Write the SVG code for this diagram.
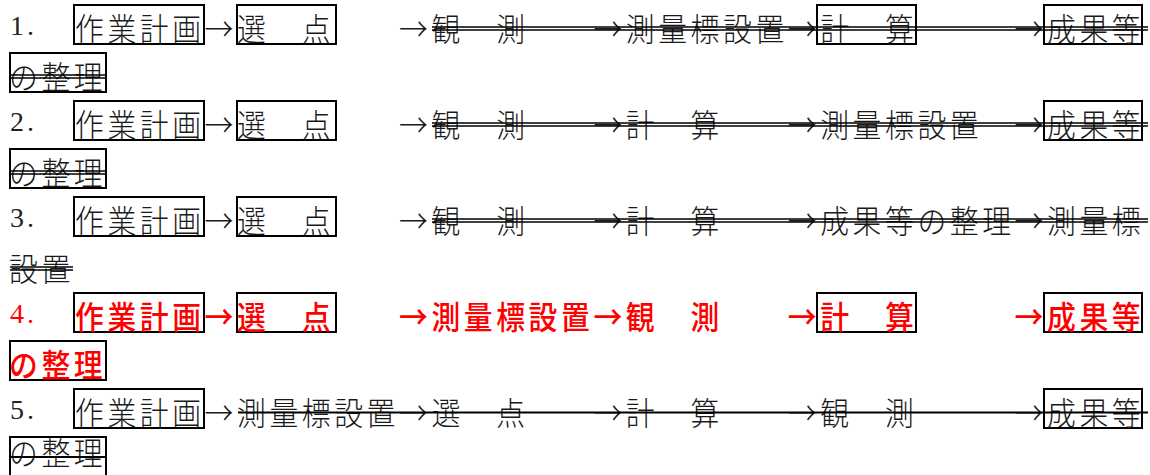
<svg xmlns="http://www.w3.org/2000/svg" width="1150" height="475" viewBox="0 0 1150 475">
<style>
.t{font-family:"Noto Sans CJK JP","Noto Sans CJK SC",sans-serif;font-size:32px;font-weight:300;fill:#1a1a1a}
.n{font-family:"Liberation Serif",serif;font-size:28px;fill:#222}
.r .t,.r .n{fill:#ff0000;font-weight:500}
.box{fill:none;stroke:#000;stroke-width:2}
.s{stroke:#000;stroke-width:1.5;fill:none}
.s1{stroke:#000;stroke-width:2.2;fill:none}
</style>
<rect width="1150" height="475" fill="#fff"/>

<!-- Line 1 -->
<g id="line1">
<text class="n" x="10" y="35">1</text><text class="n" x="27" y="35">.</text>
<g id="l1-plan"><rect class="box" x="74" y="5" width="130" height="39"/><text class="t" transform="scale(0.9 1)" x="83.33 119.33 155.33 191.33" y="41">作業計画</text></g>
<g id="l1-select"><rect class="box" x="237" y="5" width="99" height="39"/><text class="t" transform="scale(0.9 1)" x="263.33 335.33" y="41">選点</text></g>
<g id="l1-observe"><text class="t" transform="scale(0.9 1)" x="479.33 551.33" y="41">観測</text></g>
<g id="l1-marker"><text class="t" transform="scale(0.9 1)" x="695.33 731.33 767.33 803.33 839.33" y="41">測量標設置</text></g>
<g id="l1-calc"><rect class="box" x="817" y="5" width="99" height="39"/><text class="t" transform="scale(0.9 1)" x="911.33 983.33" y="41">計算</text></g>
<g id="l1-result"><rect class="box" x="1044" y="5" width="98" height="39"/><text class="t" transform="scale(0.9 1)" x="1163.33 1199.33 1235.33" y="41">成果等</text><rect class="box" x="10" y="53" width="96" height="39"/><text class="t" transform="scale(0.9 1)" x="10 46 82" y="89">の整理</text></g>
</g>

<!-- Line 2 -->
<g id="line2">
<text class="n" x="10" y="131">2</text><text class="n" x="27" y="131">.</text>
<g id="l2-plan"><rect class="box" x="74" y="101" width="130" height="39"/><text class="t" transform="scale(0.9 1)" x="83.33 119.33 155.33 191.33" y="137">作業計画</text></g>
<g id="l2-select"><rect class="box" x="237" y="101" width="99" height="39"/><text class="t" transform="scale(0.9 1)" x="263.33 335.33" y="137">選点</text></g>
<g id="l2-observe"><text class="t" transform="scale(0.9 1)" x="479.33 551.33" y="137">観測</text></g>
<g id="l2-calc"><text class="t" transform="scale(0.9 1)" x="695.33 767.33" y="137">計算</text></g>
<g id="l2-marker"><text class="t" transform="scale(0.9 1)" x="911.33 947.33 983.33 1019.33 1055.33" y="137">測量標設置</text></g>
<g id="l2-result"><rect class="box" x="1044" y="101" width="98" height="39"/><text class="t" transform="scale(0.9 1)" x="1163.33 1199.33 1235.33" y="137">成果等</text><rect class="box" x="10" y="149" width="96" height="39"/><text class="t" transform="scale(0.9 1)" x="10 46 82" y="185">の整理</text></g>
</g>

<!-- Line 3 -->
<g id="line3">
<text class="n" x="10" y="227">3</text><text class="n" x="27" y="227">.</text>
<g id="l3-plan"><rect class="box" x="74" y="197" width="130" height="39"/><text class="t" transform="scale(0.9 1)" x="83.33 119.33 155.33 191.33" y="233">作業計画</text></g>
<g id="l3-select"><rect class="box" x="237" y="197" width="99" height="39"/><text class="t" transform="scale(0.9 1)" x="263.33 335.33" y="233">選点</text></g>
<g id="l3-observe"><text class="t" transform="scale(0.9 1)" x="479.33 551.33" y="233">観測</text></g>
<g id="l3-calc"><text class="t" transform="scale(0.9 1)" x="695.33 767.33" y="233">計算</text></g>
<g id="l3-result"><text class="t" transform="scale(0.9 1)" x="911.33 947.33 983.33 1019.33 1055.33 1091.33" y="233">成果等の整理</text></g>
<g id="l3-marker"><text class="t" transform="scale(0.9 1)" x="1163.33 1199.33 1235.33" y="233">測量標</text><text class="t" transform="scale(0.9 1)" x="10 46" y="281">設置</text></g>
</g>

<!-- Line 4 (red) -->
<g id="line4" class="r">
<text class="n" x="10" y="323">4</text><text class="n" x="27" y="323">.</text>
<g id="l4-plan"><rect class="box" x="74" y="293" width="130" height="39"/><text class="t" transform="scale(0.9 1)" x="83.33 119.33 155.33 191.33" y="329">作業計画</text></g>
<g id="l4-select"><rect class="box" x="237" y="293" width="99" height="39"/><text class="t" transform="scale(0.9 1)" x="263.33 335.33" y="329">選点</text></g>
<g id="l4-marker"><text class="t" transform="scale(0.9 1)" x="479.33 515.33 551.33 587.33 623.33" y="329">測量標設置</text></g>
<g id="l4-observe"><text class="t" transform="scale(0.9 1)" x="695.33 767.33" y="329">観測</text></g>
<g id="l4-calc"><rect class="box" x="817" y="293" width="99" height="39"/><text class="t" transform="scale(0.9 1)" x="911.33 983.33" y="329">計算</text></g>
<g id="l4-result"><rect class="box" x="1044" y="293" width="98" height="39"/><text class="t" transform="scale(0.9 1)" x="1163.33 1199.33 1235.33" y="329">成果等</text><rect class="box" x="10" y="341" width="96" height="39"/><text class="t" transform="scale(0.9 1)" x="10 46 82" y="377">の整理</text></g>
</g>

<!-- Line 5 -->
<g id="line5">
<text class="n" x="10" y="419">5</text><text class="n" x="27" y="419">.</text>
<g id="l5-plan"><rect class="box" x="74" y="389" width="130" height="39"/><text class="t" transform="scale(0.9 1)" x="83.33 119.33 155.33 191.33" y="425">作業計画</text></g>
<g id="l5-marker"><text class="t" transform="scale(0.9 1)" x="263.33 299.33 335.33 371.33 407.33" y="425">測量標設置</text></g>
<g id="l5-select"><text class="t" transform="scale(0.9 1)" x="479.33 551.33" y="425">選点</text></g>
<g id="l5-calc"><text class="t" transform="scale(0.9 1)" x="695.33 767.33" y="425">計算</text></g>
<g id="l5-observe"><text class="t" transform="scale(0.9 1)" x="911.33 983.33" y="425">観測</text></g>
<g id="l5-result"><rect class="box" x="1044" y="389" width="98" height="39"/><text class="t" transform="scale(0.9 1)" x="1163.33 1199.33 1235.33" y="425">成果等</text><rect class="box" x="10" y="437" width="96" height="39"/><text class="t" transform="scale(0.9 1)" x="10 46 82" y="465">の整理</text></g>
</g>

<!-- Connectors (arrows) -->
<g id="connectors">
<g transform="scale(0.9 1)">
<text class="t" x="227.33" y="41">→</text><text class="t" x="443.33" y="41">→</text><text class="t" x="659.33" y="41">→</text><text class="t" x="875.33" y="41">→</text><text class="t" x="1127.33" y="41">→</text>
<text class="t" x="227.33" y="137">→</text><text class="t" x="443.33" y="137">→</text><text class="t" x="659.33" y="137">→</text><text class="t" x="875.33" y="137">→</text><text class="t" x="1127.33" y="137">→</text>
<text class="t" x="227.33" y="233">→</text><text class="t" x="443.33" y="233">→</text><text class="t" x="659.33" y="233">→</text><text class="t" x="875.33" y="233">→</text><text class="t" x="1127.33" y="233">→</text>
<g class="r"><text class="t" x="227.33" y="329">→</text><text class="t" x="443.33" y="329">→</text><text class="t" x="659.33" y="329">→</text><text class="t" x="875.33" y="329">→</text><text class="t" x="1127.33" y="329">→</text></g>
<text class="t" x="227.33" y="425">→</text><text class="t" x="443.33" y="425">→</text><text class="t" x="659.33" y="425">→</text><text class="t" x="875.33" y="425">→</text><text class="t" x="1127.33" y="425">→</text>
</g>
</g>

<!-- Strikethroughs -->
<g id="strikes">
<path class="s" d="M432 27H1148M432 30H1148M10 75H106M10 78H106"/>
<path class="s" d="M432 123H1148M432 126H1148M10 171H106M10 174H106"/>
<path class="s" d="M432 219H1148M432 222H1148M10 267H73M10 270H73"/>
<path class="s1" d="M238 412.5H1148M10 457H106"/>
</g>
</svg>
